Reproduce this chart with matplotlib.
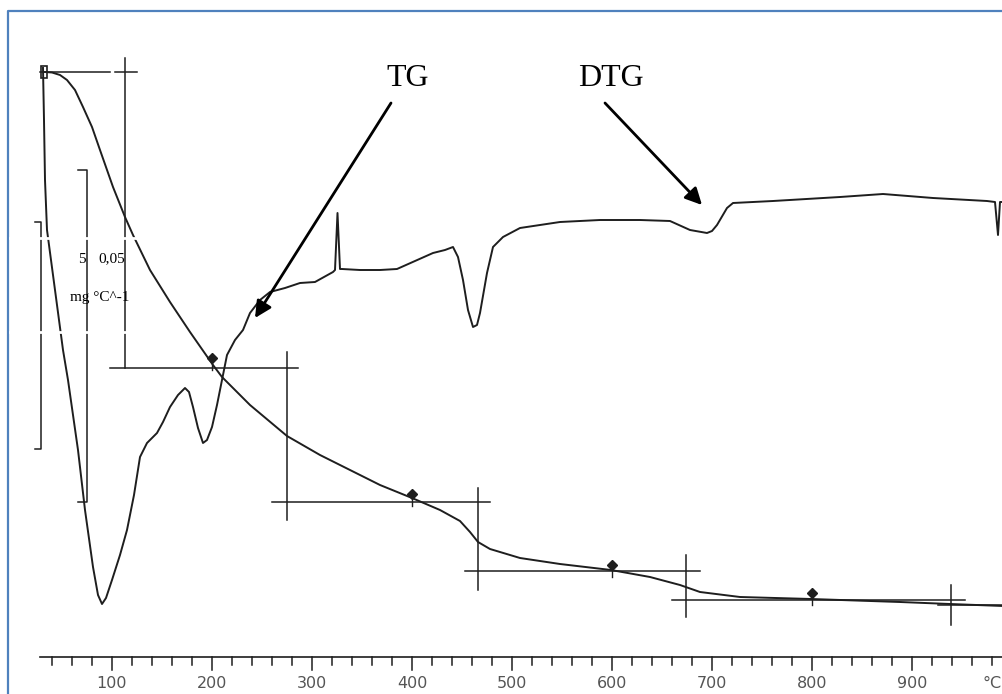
import numpy as np
import matplotlib.pyplot as plt

# temperature (deg C) and chart height (y grows downward, scan units)
tg_temp = [33, 40, 48, 55, 63, 71, 80, 88, 101, 113, 121, 138, 158, 178, 201, 210, 238,
           275, 308, 338, 368, 400, 428, 448, 458, 466, 478, 508, 548, 599, 638, 668,
           688, 728, 799, 888, 938, 991]
tg_val = [72, 72.5, 75, 80, 90, 107, 127, 150, 187, 217, 235, 270, 302, 332, 365, 377,
          405, 436, 455, 470, 485, 498, 510, 521, 532, 542, 549, 558, 564, 570, 577,
          585, 592, 597, 599, 602, 604, 606]

dtg_temp = [31, 32, 33, 35, 43, 51, 56, 66, 73, 81, 86, 90, 94, 100, 108, 115, 122, 128,
            135, 145, 151, 158, 166, 173, 177, 181, 186, 191, 195, 200, 205, 210, 215,
            223, 231, 238, 248, 258, 273, 288, 303, 321, 323, 325.5, 328, 330, 348, 368,
            385, 403, 421, 433, 441, 446, 451, 456, 461, 465, 468, 475, 481, 491, 508,
            548, 588, 628, 658, 678, 695, 700, 705, 715, 721, 761, 828, 871, 921, 975,
            983, 986, 988, 991]
dtg_val = [68, 120, 180, 230, 290, 350, 380, 450, 510, 567, 595, 604, 598, 580, 555, 530,
           495, 457, 443, 433, 422, 407, 395, 388, 392, 407, 428, 443, 440, 427, 405, 380,
           355, 340, 330, 313, 300, 292, 288, 283, 282, 272, 270, 213, 269, 269, 270, 270,
           269, 261, 253, 250, 247, 257, 280, 310, 327, 325, 313, 273, 247, 237, 228,
           222, 220, 220, 221, 230, 233, 231, 225, 208, 203, 201, 197, 194, 198, 201,
           202, 235, 202, 202]

# step marks of the TG evaluation
step_temp = [200, 400, 600, 800]
step_val = [358, 494, 565, 593]

# horizontal and vertical guide lines: (y, t_start, t_end) / (t, y_start, y_end)
hlines = [(72, 28, 98), (72, 103, 125), (368, 98, 286), (502, 260, 478),
          (571, 453, 688), (600, 660, 953), (605, 926, 991)]
vlines = [(113, 58, 368), (275, 352, 520), (466, 488, 590), (674, 555, 617), (939, 585, 625)]

axis_ticks = [100, 200, 300, 400, 500, 600, 700, 800, 900]

ink = '#1e1e1e'
fig = plt.figure(figsize=(10.03, 6.94), dpi=100)
ax = fig.add_axes([0, 0, 1, 1])
ax.set_xlim(-12, 991)
ax.set_ylim(694, 0)
ax.axis('off')

ax.plot(tg_temp, tg_val, color=ink, lw=1.4)
ax.plot(dtg_temp, dtg_val, color=ink, lw=1.4)

for y, t0, t1 in hlines:
    ax.plot([t0, t1], [y, y], color=ink, lw=1.1)
for t, y0, y1 in vlines:
    ax.plot([t, t], [y0, y1], color=ink, lw=1.1)

# scale brackets on the left
ax.plot([23, 29, 29, 23], [222, 222, 449, 449], color=ink, lw=1.1)
ax.plot([66, 75, 75, 66], [170, 170, 502, 502], color=ink, lw=1.1)
ax.add_patch(plt.Rectangle((29, 66), 6, 12, fill=False, ec=ink, lw=1.2))

# step markers with small ticks
ax.plot(step_temp, step_val, 'D', color=ink, ms=5)
for t, y in zip(step_temp, step_val):
    ax.plot([t, t], [y, y + 12], color=ink, lw=1.0)

# scan artefacts: white bands through the left side
for y in [238, 332]:
    ax.plot([-2, 130], [y, y], color='white', lw=2, zorder=5)

ax.text(70, 259, '5', family='Liberation Serif', fontsize=11, ha='center', va='center', zorder=6)
ax.text(86, 259, '0,05', family='Liberation Serif', fontsize=11, ha='left', va='center', zorder=6)
ax.text(58, 297, 'mg °C^-1', family='Liberation Serif', fontsize=11, ha='left', va='center', zorder=6)

# temperature axis
ax.plot([28, 991], [657, 657], color=ink, lw=1.2)
for t in range(40, 991, 20):
    ax.plot([t, t], [657, 670 if t % 100 == 0 else 665], color=ink, lw=1.1)
for t in axis_ticks:
    ax.text(t, 684, str(t), fontsize=11.5, color='#555555', ha='center', va='center')
ax.text(990, 684, '°C', fontsize=11.5, color='#555555', ha='right', va='center')

# labels with arrows
ax.text(396, 78, 'TG', family='Liberation Serif', fontsize=23, ha='center', va='center')
ax.text(599, 78, 'DTG', family='Liberation Serif', fontsize=23, ha='center', va='center')
ax.annotate('', xy=(243, 318), xytext=(379, 103),
            arrowprops=dict(arrowstyle='-|>', color='black', lw=2, mutation_scale=25,
                            shrinkA=0, shrinkB=0))
ax.annotate('', xy=(690, 205), xytext=(593, 103),
            arrowprops=dict(arrowstyle='-|>', color='black', lw=2, mutation_scale=25,
                            shrinkA=0, shrinkB=0))

# blue frame of the screenshot
ax.plot([-4, -4, 991], [694, 11, 11], color='#4f81bd', lw=1.6, clip_on=False)

fig.savefig('out.png', dpi=100)
